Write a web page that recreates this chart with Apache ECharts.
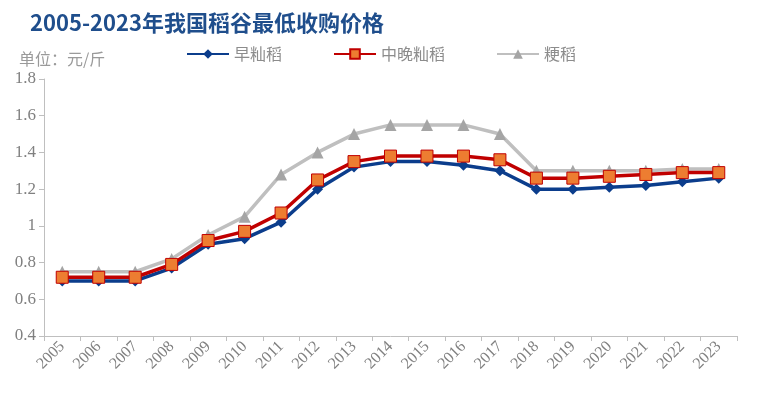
<!DOCTYPE html>
<html><head><meta charset="utf-8">
<script src="https://cdn.jsdelivr.net/npm/echarts@6/dist/echarts.min.js"></script>
<style>html,body{margin:0;padding:0;background:#fff}#c{width:768px;height:413px}</style>
</head><body><div id="c"></div>
<script>
const years = ['2005','2006','2007','2008','2009','2010','2011','2012','2013','2014','2015','2016','2017','2018','2019','2020','2021','2022','2023'];
const earlyIndica = [0.70,0.70,0.70,0.77,0.90,0.93,1.02,1.20,1.32,1.35,1.35,1.33,1.30,1.20,1.20,1.21,1.22,1.24,1.26];
const midLateIndica = [0.72,0.72,0.72,0.79,0.92,0.97,1.07,1.25,1.35,1.38,1.38,1.38,1.36,1.26,1.26,1.27,1.28,1.29,1.29];
const japonica = [0.75,0.75,0.75,0.82,0.95,1.05,1.28,1.40,1.50,1.55,1.55,1.55,1.50,1.30,1.30,1.30,1.30,1.31,1.31];
const yTicks = [0.4,0.6,0.8,1,1.2,1.4,1.6,1.8];

const chart = echarts.init(document.getElementById('c'));
const serif = '"Liberation Serif","DejaVu Serif",serif';
chart.setOption({
  animation:false,
  backgroundColor:'#fff',
  title:{text:'2005-2023年我国稻谷最低收购价格',left:25,top:7,
    textStyle:{color:'#1F4E8C',fontSize:22,fontWeight:'bold',fontFamily:'"Noto Sans CJK SC",sans-serif'}},
  graphic:[{type:'text',left:19,top:51,style:{text:'单位：元/斤',fill:'#9a9a9a',font:'16px "Noto Sans CJK SC"'}}],
  legend:{top:41,left:181,itemGap:51,itemWidth:42,itemHeight:12,
    textStyle:{color:'#8c8c8c',fontSize:16,fontFamily:'"Noto Sans CJK SC",sans-serif'},
    data:['早籼稻','中晚籼稻','粳稻']},
  grid:{left:44,right:31,top:79,bottom:77},
  xAxis:{type:'category',data:years,boundaryGap:true,
    axisLine:{lineStyle:{color:'#BFBFBF'}},
    axisTick:{show:true,length:5,lineStyle:{color:'#BFBFBF'}},
    axisLabel:{rotate:45,color:'#808080',fontSize:16,fontFamily:serif,margin:8}},
  yAxis:{type:'value',min:0.4,max:1.8,interval:0.2,
    axisLine:{show:true,lineStyle:{color:'#BFBFBF'}},
    axisTick:{show:true,length:5,lineStyle:{color:'#BFBFBF'}},
    splitLine:{show:false},
    axisLabel:{color:'#808080',fontSize:17,fontFamily:serif,margin:8,
      formatter:v=>{const t=yTicks.find(x=>Math.abs(x-v)<1e-6);return t===undefined?'':String(t);}}},
  series:[
    {name:'早籼稻',type:'line',data:earlyIndica,symbol:'diamond',symbolSize:11,
      lineStyle:{color:'#0B3D8C',width:3.5},itemStyle:{color:'#0B3D8C'},z:2},
    {name:'中晚籼稻',type:'line',data:midLateIndica,symbol:'rect',symbolSize:12,
      lineStyle:{color:'#C00000',width:3.5},itemStyle:{color:'#ED7D31',borderColor:'#C00000',borderWidth:1},z:3},
    {name:'粳稻',type:'line',data:japonica,symbol:'triangle',symbolSize:12,
      lineStyle:{color:'#BFBFBF',width:3.5},itemStyle:{color:'#A5A5A5'},z:1}
  ]
});
</script></body></html>
